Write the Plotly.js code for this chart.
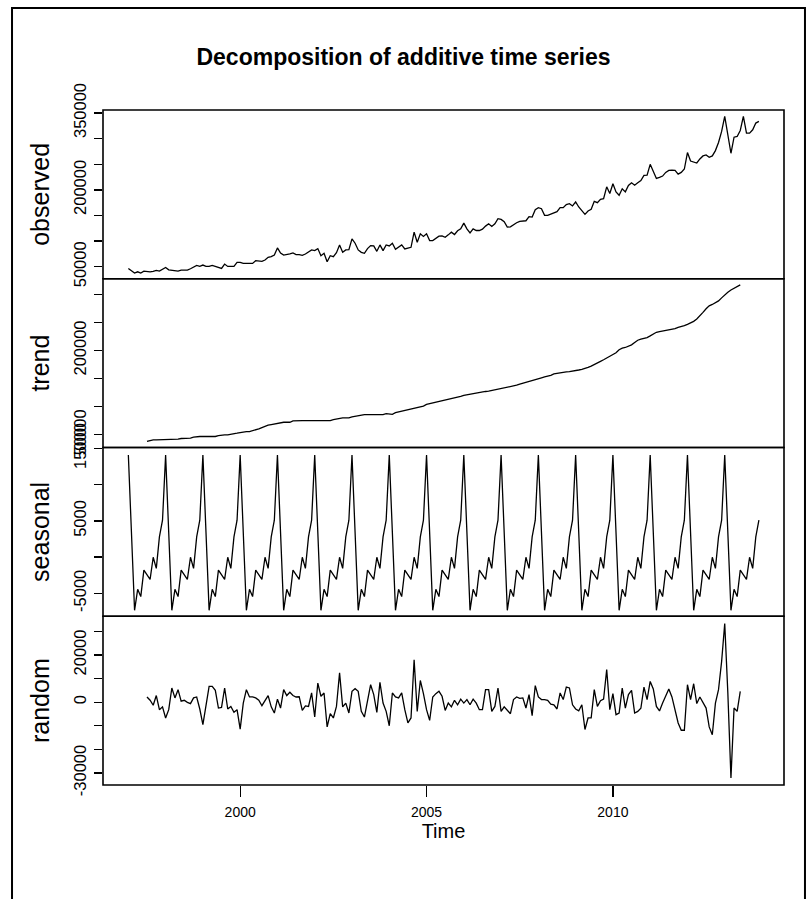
<!DOCTYPE html>
<html>
<head>
<meta charset="utf-8">
<script src="https://cdn.plot.ly/plotly-3.0.1.min.js"></script>
<style>html,body{margin:0;padding:0;background:#fff;}#chart{width:807px;height:899px;}</style>
</head>
<body>
<div id="chart"></div>
<script>
// ---- Data (monthly, Jan 1997 .. Dec 2013) ----
const startYear = 1997;
const frequency = 12;
const componentStart = 1997.5; // trend / random start (Jul 1997)

const observed = [
  46700, 42100, 37600, 40200, 37600, 41500, 40200, 40200, 40800, 42800, 41500, 45400,
  48700, 44100, 43500, 42100, 41500, 43500, 43500, 43500, 46100, 48700, 52600, 50700,
  53300, 50700, 50700, 52600, 50700, 48000, 46700, 55200, 50700, 50700, 50700, 58500,
  58500, 56600, 56600, 56600, 56600, 61800, 61800, 60500, 63100, 68300, 69700, 72900,
  86700, 76900, 72900, 73600, 74900, 76900, 73600, 73600, 72300, 74900, 78200, 82800,
  81400, 85400, 71600, 76200, 59800, 71600, 69700, 77500, 92600, 78200, 82800, 83400,
  104400, 95900, 82800, 78200, 76200, 85400, 91300, 90600, 80100, 92600, 81400, 92600,
  90600, 95900, 84100, 89300, 92600, 84700, 86700, 88000, 117500, 97800, 114200, 109000,
  114200, 101100, 101100, 105700, 109600, 110300, 107600, 112200, 117500, 112900, 120100, 124000,
  135200, 124000, 116200, 124000, 120700, 120700, 123400, 129300, 133800, 128600, 133800, 143700,
  142400, 137800, 127300, 127900, 132500, 135800, 138400, 139100, 139700, 147600, 146900, 161400,
  165300, 163300, 150200, 150200, 152800, 155500, 157400, 165300, 165300, 171200, 173100, 168600,
  176400, 166600, 158700, 152200, 158700, 162000, 177700, 175100, 181700, 183000, 205900, 192800,
  211800, 196100, 189500, 202000, 196100, 208500, 213800, 209200, 213800, 218300, 228200, 228800,
  249800, 235400, 222300, 224200, 226900, 234100, 238000, 238600, 238000, 230800, 234100, 240600,
  272700, 256300, 255000, 252400, 260300, 266200, 268100, 263500, 266200, 276600, 292400, 314000,
  343400, 310700, 271400, 302800, 304100, 315900, 343400, 310700, 310700, 317200, 330300, 333600
];

const trend = [
  38200, 40000, 41200, 41200, 41200, 41200,
  41200, 41200, 41200, 41200, 42400, 43500, 43500, 43500, 44100, 45900, 47100, 47100,
  47100, 47100, 47100, 47100, 47100, 48800, 50000, 50000, 50000, 50600, 51200, 52900,
  54100, 55300, 55900, 55900, 57100, 58800, 60600, 62900, 65300, 67100, 68200, 69400,
  70600, 71800, 72400, 72400, 72400, 74700, 75300, 75300, 75300, 75300, 75300, 75300,
  75300, 75300, 75300, 75300, 75300, 75300, 77100, 78200, 78800, 80000, 80000, 80000,
  81800, 82900, 83500, 84700, 85900, 85900, 85900, 85900, 85900, 85900, 85900, 87600,
  86500, 86500, 89400, 90600, 92400, 93500, 94700, 95900, 97100, 98800, 100000, 101200,
  104100, 105300, 107100, 108200, 108800, 110300, 112000, 113500, 114100, 115900, 117100, 118200,
  120000, 121200, 122300, 123500, 124100, 125300, 126500, 127100, 127600, 128800, 130000, 130600,
  131200, 132300, 133500, 134700, 136500, 138200, 140000, 141800, 143500, 145300, 147100, 148200,
  150000, 151200, 152900, 154100, 155900, 158200, 159400, 160600, 161200, 161800, 162300, 162900,
  164100, 165300, 166500, 167600, 170000, 172300, 174700, 177600, 180600, 183500, 186500, 188800,
  191800, 195900, 201200, 204100, 205300, 207000, 210000, 214100, 218200, 220000, 221200, 222900,
  225900, 229400, 232300, 233500, 234700, 235300, 235900, 237000, 238800, 241200, 242300, 244100,
  246500, 248800, 251800, 255900, 261200, 267600, 274100, 279400, 281800, 284700, 288200, 293500,
  298800, 303500, 307600, 310600, 313500, 316500
];

const seasonal = [
  14100, 3300, -7350, -4450, -5450, -1800, -2450, -3080, -20, -1550, 2800, 5100,
  14100, 3300, -7350, -4450, -5450, -1800, -2450, -3080, -20, -1550, 2800, 5100,
  14100, 3300, -7350, -4450, -5450, -1800, -2450, -3080, -20, -1550, 2800, 5100,
  14100, 3300, -7350, -4450, -5450, -1800, -2450, -3080, -20, -1550, 2800, 5100,
  14100, 3300, -7350, -4450, -5450, -1800, -2450, -3080, -20, -1550, 2800, 5100,
  14100, 3300, -7350, -4450, -5450, -1800, -2450, -3080, -20, -1550, 2800, 5100,
  14100, 3300, -7350, -4450, -5450, -1800, -2450, -3080, -20, -1550, 2800, 5100,
  14100, 3300, -7350, -4450, -5450, -1800, -2450, -3080, -20, -1550, 2800, 5100,
  14100, 3300, -7350, -4450, -5450, -1800, -2450, -3080, -20, -1550, 2800, 5100,
  14100, 3300, -7350, -4450, -5450, -1800, -2450, -3080, -20, -1550, 2800, 5100,
  14100, 3300, -7350, -4450, -5450, -1800, -2450, -3080, -20, -1550, 2800, 5100,
  14100, 3300, -7350, -4450, -5450, -1800, -2450, -3080, -20, -1550, 2800, 5100,
  14100, 3300, -7350, -4450, -5450, -1800, -2450, -3080, -20, -1550, 2800, 5100,
  14100, 3300, -7350, -4450, -5450, -1800, -2450, -3080, -20, -1550, 2800, 5100,
  14100, 3300, -7350, -4450, -5450, -1800, -2450, -3080, -20, -1550, 2800, 5100,
  14100, 3300, -7350, -4450, -5450, -1800, -2450, -3080, -20, -1550, 2800, 5100,
  14100, 3300, -7350, -4450, -5450, -1800, -2450, -3080, -20, -1550, 2800, 5100
];

const random = [
  2200, 800, -1300, 2800, -3200, -2000,
  -6700, -3200, 6000, 1800, 5300, 400, 800, -100, -600, 1800, 2200, -2900,
  -9500, -1800, 6700, 6700, 5000, -2500, -2200, 6000, -2900, -1800, -4300, -3200,
  -11400, -400, 5300, 2200, 2200, 1800, 800, -1500, 800, 2800, -2000, -4600,
  1300, -2500, 5300, 2800, 4200, 2800, 2200, 2300, -3500, -1600, -1800, 3900,
  -6300, 8100, 2500, 3900, -10500, -4900, -6700, -1800, 12400, -2000, -400, -4600,
  4600, 5700, 4600, -3900, -6300, 400, 7400, 3200, -4300, 8400, -400, -3900,
  -10000, 3900, 2200, 1800, 3900, -3200, -8800, -6700, 18000, -3900, 9200, 3600,
  -3200, -7700, 2200, 3600, 4600, 2500, -3500, -400, -2000, 800, -1100, 1300,
  -400, 1100, -1100, 1300, -400, -3200, -3200, 5300, 5300, -3900, -1800, 6000,
  -3900, -2000, -3500, -4900, 1100, 2200, 1600, 1800, -2500, 3200, -5700, 7000,
  2200, 1100, 1100, 800, -800, -1100, -2900, 3900, 1100, 6400, 6000, -1100,
  -2900, -3700, -1100, -11600, -6700, -6700, 5300, -1800, 600, 1300, 13800, -3200,
  3600, -5300, -4600, 6000, -2500, 3200, 5000, -4600, -3900, -2600, 6400, 1100,
  8800, 5600, -1800, -3700, -400, 2500, 5600, 2200, -3200, -8800, -11900, -11900,
  7400, 1100, 7800, -600, 2200, -100, -2500, -10500, -13800, -400, 5300, 17300,
  33300, 3900, -32100, -2500, -3900, 4600
];

const panelNames = ['observed', 'trend', 'seasonal', 'random'];
const xTickVals = [2000, 2005, 2010];
const xTickText = ['2000', '2005', '2010'];

const obsTickVals = [50000, 100000, 150000, 200000, 250000, 300000, 350000];
const obsTickText = ['50000', '', '', '200000', '', '', '350000'];
const trendTickVals = [50000, 100000, 150000, 200000, 250000, 300000];
const trendTickText = ['50000', '', '', '200000', '', ''];
const seasTickVals = [-5000, 0, 5000, 10000, 15000];
const seasTickText = ['-5000', '', '5000', '', '15000'];
const randTickVals = [-30000, -20000, -10000, 0, 10000, 20000, 30000];
const randTickText = ['-30000', '', '', '0', '', '20000', ''];

// ---- time axes ----
function timeAxis(start, n) {
  const t = [];
  for (let k = 0; k < n; k++) t.push(start + k / frequency);
  return t;
}
const tObs = timeAxis(startYear, observed.length);
const tComp = timeAxis(componentStart, trend.length);

const FONT = 'Liberation Sans, Arial, Helvetica, sans-serif';
const lineStyle = {color: '#000', width: 1.3};

const traces = [
  {x: tObs, y: observed, type: 'scatter', mode: 'lines', line: lineStyle, xaxis: 'x', yaxis: 'y', name: 'observed'},
  {x: tComp, y: trend, type: 'scatter', mode: 'lines', line: lineStyle, xaxis: 'x', yaxis: 'y2', name: 'trend'},
  {x: tObs, y: seasonal, type: 'scatter', mode: 'lines', line: lineStyle, xaxis: 'x', yaxis: 'y3', name: 'seasonal'},
  {x: tComp, y: random, type: 'scatter', mode: 'lines', line: lineStyle, xaxis: 'x', yaxis: 'y4', name: 'random'}
];

function yAxis(domain, range, tv, tt, title) {
  return {
    domain: domain, range: range, anchor: 'x',
    tickvals: tv, ticktext: tt, tickangle: -90,
    ticks: 'outside', ticklen: 8, tickwidth: 1.3, tickcolor: '#000',
    ticklabelstandoff: 1,
    tickfont: {family: FONT, size: 16.5, color: '#000'},
    showgrid: false, zeroline: false, showline: false,
    title: {text: title, font: {family: FONT, size: 25, color: '#000'}, standoff: 14}
  };
}

const layout = {
  width: 807, height: 899,
  margin: {l: 103, r: 23, t: 110, b: 114},
  paper_bgcolor: '#fff', plot_bgcolor: '#fff',
  showlegend: false,
  title: {text: '<b>Decomposition of additive time series</b>', x: 0.5, xref: 'container', xanchor: 'center',
          y: 1 - 57 / 899, yref: 'container', yanchor: 'middle',
          font: {family: FONT, size: 23, color: '#000'}},
  xaxis: {
    range: [1996.32, 2014.59], anchor: 'y4',
    tickvals: xTickVals, ticktext: xTickText,
    ticks: 'outside', ticklen: 11, tickwidth: 1.3, tickcolor: '#000',
    ticklabelstandoff: 3,
    tickfont: {family: FONT, size: 14, color: '#000'},
    showgrid: false, zeroline: false, showline: false,
    title: {text: 'Time', font: {family: FONT, size: 20, color: '#000'}, standoff: 5}
  },
  yaxis: yAxis([0.75, 1], [26600, 355800], obsTickVals, obsTickText, panelNames[0]),
  yaxis2: yAxis([0.5, 0.75], [27500, 327500], trendTickVals, trendTickText, panelNames[1]),
  yaxis3: yAxis([0.25, 0.5], [-8170, 15140], seasTickVals, seasTickText, panelNames[2]),
  yaxis4: yAxis([0, 0.25], [-35100, 36400], randTickVals, randTickText, panelNames[3]),
  shapes: [
    {type: 'rect', xref: 'paper', yref: 'paper', x0: 0, x1: 1, y0: 0.75, y1: 1, line: {color: '#000', width: 1.6}},
    {type: 'rect', xref: 'paper', yref: 'paper', x0: 0, x1: 1, y0: 0.5, y1: 0.75, line: {color: '#000', width: 1.6}},
    {type: 'rect', xref: 'paper', yref: 'paper', x0: 0, x1: 1, y0: 0.25, y1: 0.5, line: {color: '#000', width: 1.6}},
    {type: 'rect', xref: 'paper', yref: 'paper', x0: 0, x1: 1, y0: 0, y1: 0.25, line: {color: '#000', width: 1.6}},
    {type: 'rect', xref: 'paper', yref: 'paper', x0: -0.1336, x1: 1.0308, y0: -0.178, y1: 1.1511, line: {color: '#000', width: 2}}
  ]
};

Plotly.newPlot('chart', traces, layout, {staticPlot: true, displayModeBar: false});
</script>
</body>
</html>
